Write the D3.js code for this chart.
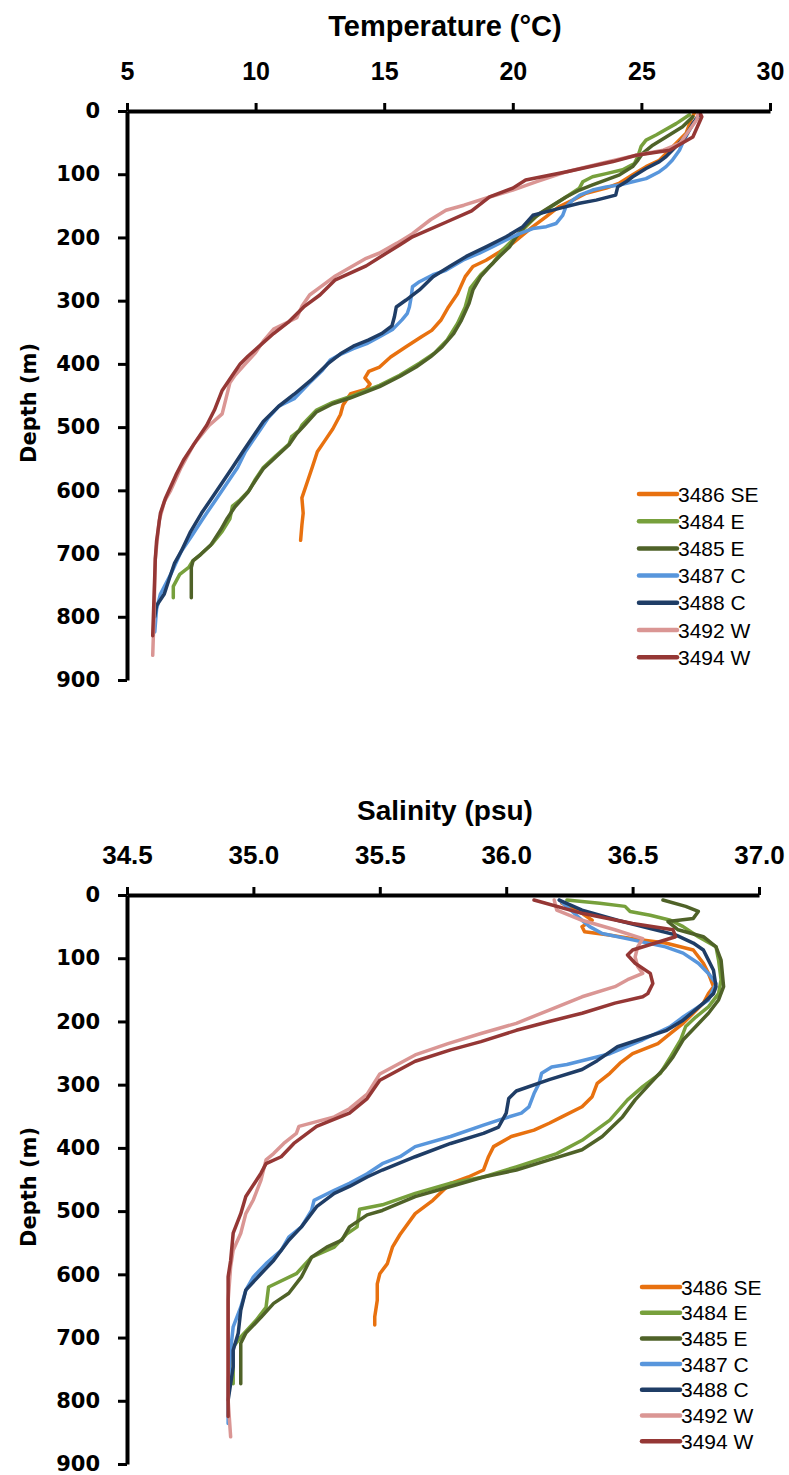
<!DOCTYPE html>
<html><head><meta charset="utf-8">
<script src="https://cdn.jsdelivr.net/npm/d3@7"></script>
<style>body{margin:0;background:#fff}svg{display:block}</style>
</head><body>
<svg id="chart" width="789" height="1475"></svg>
<script>
// ---------- data ----------
const stations = ["3486 SE","3484 E","3485 E","3487 C","3488 C","3492 W","3494 W"];
const colors = ["#E8710F","#77A03C","#4F6228","#5896DC","#1F3D66","#DA9694","#953735"];
const tempTicks = [5,10,15,20,25,30];
const salTicks = [34.5,35.0,35.5,36.0,36.5,37.0];
const depthTicks = [0,100,200,300,400,500,600,700,800,900];

// temperature profiles: [temperature °C, depth m]
const t3486 = [[27.06,3],[26.93,14],[26.74,35],[26.35,51],[25.96,67],[25.7,78],[25.18,88],[24.66,101],[24.15,114],[23.63,122],[22.85,130],[22.33,141],[21.81,151],[21.3,167],[20.78,183],[20.39,196],[20.0,209],[19.48,223],[18.96,236],[18.45,246],[18.15,262],[17.85,289],[17.5,310],[17.2,331],[16.85,347],[16.45,357],[15.85,373],[15.25,389],[14.82,405],[14.4,412],[14.25,422],[14.45,432],[14.3,440],[13.7,447],[13.4,465],[13.3,480],[13.0,503],[12.7,521],[12.4,539],[12.2,564],[12.0,588],[11.8,612],[11.85,636],[11.8,655],[11.75,679]];
const t3484 = [[26.87,6],[26.35,20],[25.57,38],[25.18,46],[24.99,56],[24.86,72],[24.73,83],[24.27,93],[23.63,99],[23.1,104],[22.72,112],[22.59,122],[22.07,136],[21.55,150],[20.9,167],[20.39,188],[20.0,204],[19.6,220],[19.22,241],[18.75,259],[18.35,280],[18.15,310],[17.85,336],[17.45,362],[16.95,383],[16.37,399],[15.6,418],[14.82,434],[14.3,442],[13.67,452],[13.0,461],[12.37,473],[11.8,497],[11.7,505],[11.4,515],[11.3,527],[10.8,545],[10.3,564],[10.0,582],[9.75,600],[9.4,615],[9.1,625],[9.0,645],[8.7,665],[8.3,685],[7.9,700],[7.55,712],[7.4,722],[7.05,733],[6.8,752],[6.8,770]];
const t3485 = [[27.0,9],[26.6,25],[25.96,41],[25.44,54],[25.05,67],[24.86,78],[24.66,88],[24.15,101],[23.63,109],[23.1,117],[22.59,125],[22.07,136],[21.55,149],[21.04,162],[20.52,180],[20.13,199],[19.87,215],[19.48,230],[19.1,246],[18.75,262],[18.45,283],[18.3,304],[18.0,331],[17.7,352],[17.25,373],[16.8,389],[16.24,405],[15.6,420],[14.82,436],[14.32,444],[13.67,454],[13.0,463],[12.37,476],[11.9,497],[11.6,510],[11.3,528],[10.8,547],[10.3,566],[10.0,584],[9.7,603],[9.2,626],[8.9,644],[8.65,662],[8.25,687],[7.85,702],[7.57,711],[7.5,722],[7.5,770]];
const t3487 = [[27.19,9],[26.87,30],[26.6,51],[26.48,62],[26.2,78],[25.96,88],[25.7,96],[25.18,107],[24.66,112],[24.15,117],[23.63,120],[23.1,125],[22.6,133],[22.33,141],[22.07,151],[21.94,165],[21.68,178],[21.3,183],[20.78,186],[20.26,194],[19.74,204],[19.2,215],[18.7,225],[18.06,236],[17.4,252],[16.9,259],[16.37,270],[16.1,278],[16.05,294],[15.98,310],[15.9,320],[15.7,330],[15.34,345],[14.82,357],[14.32,368],[13.8,376],[13.3,385],[12.9,394],[12.6,410],[12.1,430],[11.5,455],[10.9,467],[10.5,485],[10.2,503],[9.9,521],[9.6,539],[9.3,564],[8.9,588],[8.5,612],[8.1,636],[7.9,648],[7.5,673],[7.1,697],[6.7,733],[6.3,764],[6.15,788],[6.08,824]];
const t3488 = [[27.25,6],[27.0,20],[26.7,41],[26.2,62],[25.96,72],[25.7,80],[25.18,91],[24.66,104],[24.4,112],[24.08,120],[24.0,133],[23.24,141],[22.59,146],[21.81,154],[20.78,165],[20.39,183],[19.74,199],[18.96,215],[18.19,230],[17.54,246],[16.9,262],[16.37,283],[15.85,299],[15.47,310],[15.4,325],[15.3,340],[14.9,352],[14.4,362],[13.8,372],[13.3,384],[12.8,400],[12.2,424],[11.5,448],[10.9,467],[10.3,491],[10.0,509],[9.5,539],[9.1,564],[8.7,588],[8.3,612],[7.9,636],[7.45,667],[7.1,697],[6.85,715],[6.65,739],[6.45,764],[6.15,782],[6.08,800]];
const t3492 = [[27.2,5],[27.15,14],[26.5,51],[25.85,62],[24.8,70],[23.5,82],[22.1,96],[20.9,112],[20.0,125],[19.1,136],[18.1,149],[17.4,157],[16.8,172],[16.1,194],[15.5,209],[14.8,225],[14.3,233],[13.1,261],[12.5,279],[12.1,291],[11.8,309],[11.6,327],[10.7,345],[10.3,364],[10.0,382],[9.6,400],[9.2,418],[9.0,430],[8.7,479],[8.2,497],[7.6,527],[7.1,564],[6.7,600],[6.45,618],[6.25,648],[6.1,709],[6.05,800],[6.0,861]];
const t3494 = [[27.3,5],[27.35,9],[27.0,41],[26.1,62],[24.8,70],[23.9,80],[22.1,96],[20.5,109],[20.0,122],[19.1,136],[18.4,158],[17.4,176],[16.1,199],[15.6,212],[14.8,232],[14.3,245],[13.1,267],[12.5,291],[11.9,309],[11.3,333],[10.7,352],[10.2,370],[9.7,388],[9.4,400],[9.1,418],[8.7,442],[8.4,473],[8.1,497],[7.7,521],[7.2,552],[6.9,576],[6.5,612],[6.3,636],[6.15,680],[6.1,709],[6.05,770],[6.0,830]];

// salinity profiles: [salinity psu, depth m]
const s3486 = [[36.22,13],[36.3,29],[36.34,40],[36.3,50],[36.31,58],[36.4,63],[36.5,69],[36.63,76],[36.74,87],[36.78,108],[36.8,124],[36.82,145],[36.8,156],[36.78,171],[36.7,203],[36.65,219],[36.6,235],[36.5,251],[36.45,266],[36.41,282],[36.36,298],[36.34,319],[36.3,335],[36.22,351],[36.17,361],[36.11,372],[36.02,382],[35.95,398],[35.93,414],[35.91,435],[35.85,446],[35.78,456],[35.71,483],[35.64,504],[35.58,537],[35.55,557],[35.53,583],[35.5,599],[35.49,615],[35.49,641],[35.48,667],[35.48,680]];
const s3484 = [[36.24,8],[36.37,13],[36.47,18],[36.49,26],[36.57,32],[36.65,40],[36.7,50],[36.76,66],[36.83,82],[36.84,103],[36.85,134],[36.84,156],[36.8,177],[36.75,193],[36.71,208],[36.69,229],[36.65,256],[36.61,282],[36.54,303],[36.48,324],[36.41,356],[36.3,388],[36.2,409],[36.04,430],[35.91,446],[35.78,456],[35.64,472],[35.51,490],[35.42,497],[35.41,525],[35.37,536],[35.32,557],[35.23,573],[35.17,599],[35.06,620],[35.05,652],[35.01,673],[34.95,699],[34.92,715],[34.92,773]];
const s3485 = [[36.62,8],[36.71,18],[36.76,26],[36.74,37],[36.64,42],[36.68,55],[36.78,66],[36.83,82],[36.85,103],[36.86,145],[36.84,166],[36.8,187],[36.75,208],[36.7,229],[36.66,256],[36.63,272],[36.57,298],[36.51,324],[36.46,351],[36.38,382],[36.3,403],[36.17,419],[36.04,435],[35.91,446],[35.78,461],[35.64,477],[35.51,499],[35.45,506],[35.38,525],[35.35,546],[35.29,557],[35.23,573],[35.19,604],[35.14,630],[35.08,646],[35.03,668],[34.97,693],[34.95,709],[34.95,773]];
const s3487 = [[36.21,8],[36.3,40],[36.33,50],[36.38,61],[36.5,71],[36.63,82],[36.7,92],[36.76,108],[36.8,124],[36.83,140],[36.8,166],[36.76,177],[36.7,193],[36.65,208],[36.54,229],[36.41,251],[36.24,268],[36.18,272],[36.14,282],[36.13,298],[36.11,314],[36.09,335],[36.06,345],[35.97,356],[35.91,364],[35.78,382],[35.64,398],[35.58,414],[35.51,425],[35.45,441],[35.38,456],[35.32,467],[35.24,483],[35.23,499],[35.19,525],[35.14,541],[35.11,562],[35.05,583],[35.0,604],[34.97,625],[34.95,652],[34.92,683],[34.91,720],[34.9,773],[34.9,799],[34.9,836]];
const s3488 = [[36.21,8],[36.3,24],[36.44,40],[36.57,53],[36.67,63],[36.74,76],[36.78,87],[36.8,103],[36.82,119],[36.83,145],[36.82,156],[36.78,171],[36.7,198],[36.635,214],[36.44,240],[36.36,262],[36.3,276],[36.17,292],[36.04,310],[36.01,322],[36.0,345],[35.97,367],[35.91,377],[35.78,393],[35.64,414],[35.51,435],[35.45,446],[35.38,461],[35.32,472],[35.25,493],[35.19,525],[35.14,546],[35.08,578],[35.03,599],[34.97,625],[34.95,657],[34.94,693],[34.92,720],[34.92,746],[34.91,773],[34.9,799]];
const s3492 = [[36.19,8],[36.2,24],[36.3,40],[36.43,55],[36.54,69],[36.52,82],[36.51,98],[36.52,113],[36.54,124],[36.48,134],[36.43,145],[36.3,161],[36.17,182],[36.04,203],[35.9,219],[35.77,235],[35.64,253],[35.5,283],[35.45,315],[35.38,338],[35.32,351],[35.18,366],[35.17,377],[35.12,393],[35.08,409],[35.05,419],[35.03,451],[35.0,482],[34.97,504],[34.95,535],[34.92,562],[34.91,588],[34.9,641],[34.9,693],[34.9,746],[34.9,799],[34.91,857]];
const s3494 = [[36.11,8],[36.3,29],[36.5,45],[36.66,55],[36.67,66],[36.5,87],[36.48,95],[36.51,108],[36.57,124],[36.58,140],[36.56,156],[36.54,161],[36.43,171],[36.3,187],[36.17,200],[36.04,214],[35.9,232],[35.78,245],[35.64,263],[35.5,293],[35.45,322],[35.38,345],[35.25,366],[35.16,393],[35.11,414],[35.05,425],[35.03,440],[34.97,477],[34.95,504],[34.92,535],[34.91,578],[34.9,604],[34.9,641],[34.9,693],[34.9,746],[34.9,825]];

const tempSeries = [t3486,t3484,t3485,t3487,t3488,t3492,t3494];
const salSeries = [s3486,s3484,s3485,s3487,s3488,s3492,s3494];

// ---------- drawing ----------
const svg = d3.select("#chart");
svg.append("rect").attr("width",789).attr("height",1475).attr("fill","#fff");

function panel(cfg){
  const x = d3.scaleLinear().domain(cfg.xDomain).range(cfg.xRange);
  const y = d3.scaleLinear().domain([0,900]).range(cfg.yRange);
  const g = svg.append("g");

  const line = d3.line().x(d=>x(d[0])).y(d=>y(d[1]));
  cfg.series.forEach((s,i)=>{
    g.append("path").attr("d",line(s)).attr("fill","none")
      .attr("stroke",colors[i]).attr("stroke-width",3.5)
      .attr("stroke-linejoin","round").attr("stroke-linecap","round");
  });

  const xa = g.append("g").attr("transform",`translate(0,${cfg.yRange[0]})`)
    .call(d3.axisTop(x).tickValues(cfg.xTicks).tickFormat(cfg.xFmt).tickSize(8).tickSizeOuter(0).tickPadding(23));
  xa.select(".domain").attr("stroke","#000").attr("stroke-width",4);
  xa.selectAll(".tick line").attr("stroke","#000").attr("stroke-width",3);
  xa.selectAll(".tick text").attr("fill","#000")
    .style("font-family","'Liberation Sans', Arial, sans-serif")
    .style("font-weight","bold").style("font-size",cfg.xFont+"px");

  const ya = g.append("g").attr("transform",`translate(${cfg.xRange[0]},0)`)
    .call(d3.axisLeft(y).tickValues(depthTicks).tickSize(9).tickSizeOuter(0).tickPadding(18));
  ya.select(".domain").attr("stroke","#000").attr("stroke-width",4);
  ya.selectAll(".tick line").attr("stroke","#000").attr("stroke-width",3);
  ya.selectAll(".tick text").attr("fill","#000")
    .style("font-family","'DejaVu Sans', sans-serif")
    .style("font-weight","bold").style("font-size","21px");

  g.append("text").attr("x",445).attr("y",cfg.yRange[0]-75)
    .attr("text-anchor","middle")
    .style("font-family","'Liberation Sans', Arial, sans-serif")
    .style("font-weight","bold").style("font-size",cfg.titleFont+"px")
    .text(cfg.title);
  g.append("text").attr("transform",`translate(36,${cfg.yRange[0]+292}) rotate(-90)`)
    .attr("text-anchor","middle")
    .style("font-family","'DejaVu Sans', sans-serif")
    .style("font-weight","bold").style("font-size","21px")
    .text("Depth (m)");

  stations.forEach((s,i)=>{
    const ly = cfg.legY + i*cfg.legStep;
    g.append("line").attr("x1",cfg.legX).attr("x2",cfg.legX+38)
      .attr("y1",ly).attr("y2",ly).attr("stroke",colors[i])
      .attr("stroke-width",4.5).attr("stroke-linecap","round");
    g.append("text").attr("x",cfg.legX+39).attr("y",ly).attr("dy","0.36em")
      .style("font-family","'Liberation Sans', Arial, sans-serif")
      .style("font-size","21px").attr("fill","#000").text(s);
  });
}

panel({xDomain:[5,30], xRange:[127,770], yRange:[111,680], series:tempSeries,
  xTicks:tempTicks, xFmt:d3.format("d"), xFont:25, title:"Temperature (°C)", titleFont:29,
  legX:639, legY:494, legStep:27.2});
panel({xDomain:[34.5,37.0], xRange:[127,759], yRange:[895,1464], series:salSeries,
  xTicks:salTicks, xFmt:d3.format(".1f"), xFont:26, title:"Salinity (psu)", titleFont:28,
  legX:642, legY:1287, legStep:25.7});
</script>
</body></html>
